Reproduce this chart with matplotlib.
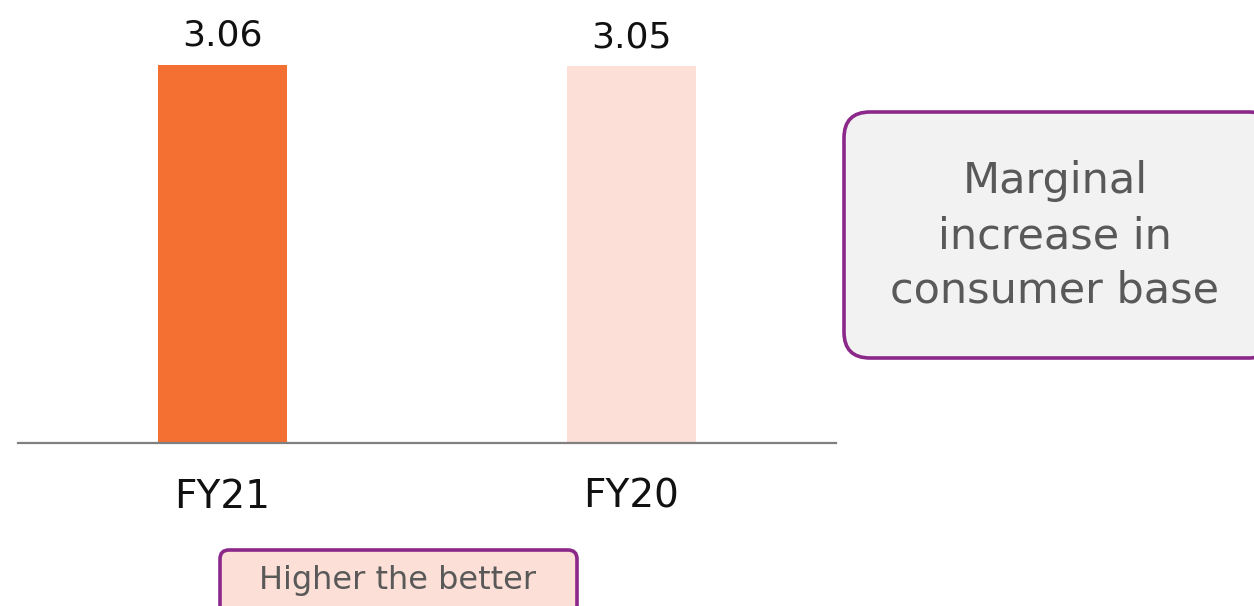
import matplotlib.pyplot as plt
from matplotlib.patches import FancyBboxPatch
from matplotlib.transforms import Affine2D

years = ['FY21', 'FY20']
values = [3.06, 3.05]
bar_colors = ['#F37032', '#FCDFD6']
note_text = 'Marginal\nincrease in\nconsumer base'
tag_text = 'Higher the better'

W, H = 1254, 606
fig = plt.figure(figsize=(W / 100, H / 100), dpi=100)
ax = fig.add_axes([18 / W, (H - 443) / H, 818 / W, 443 / H])

x = range(len(years))
bars = ax.bar(x, values, width=0.315, color=bar_colors, zorder=2)
ax.set_xlim(-0.5, 1.5)
ax.set_ylim(0, 3.06 * 443 / 378)

for b, v in zip(bars, values):
    ax.text(b.get_x() + b.get_width() / 2, v + 0.155, f'{v:.2f}',
            ha='center', va='baseline', fontsize=26, color='#111111')

ax.set_xticks(list(x))
ax.set_xticklabels(years, fontsize=28, color='#111111')
ax.tick_params(axis='x', length=0, pad=25)
ax.set_yticks([])
for s in ['top', 'right', 'left']:
    ax.spines[s].set_visible(False)
ax.spines['bottom'].set_color('#808080')
ax.spines['bottom'].set_linewidth(1.6)

# pixel coords with top-left origin
pix = Affine2D().scale(1, -1).translate(0, H)


def px_box(x0, y0, x1, y1, face, rad):
    p = FancyBboxPatch((x0, y0), x1 - x0, y1 - y0,
                       boxstyle=f'round,pad=0,rounding_size={rad}',
                       transform=pix, facecolor=face,
                       edgecolor='#8B2889', linewidth=2.6, clip_on=False)
    fig.patches.append(p)


px_box(844, 112, 1275, 358, '#F2F2F2', 26)
fig.text(1055 / W, 1 - 236 / H, note_text, ha='center', va='center',
         fontsize=31, color='#595959', linespacing=1.38)

px_box(220, 550, 577, 640, '#FCDFD6', 9)
fig.text(398 / W, 1 - 581 / H, tag_text, ha='center', va='center',
         fontsize=23, color='#595959')

fig.savefig('out.png', dpi=100)
